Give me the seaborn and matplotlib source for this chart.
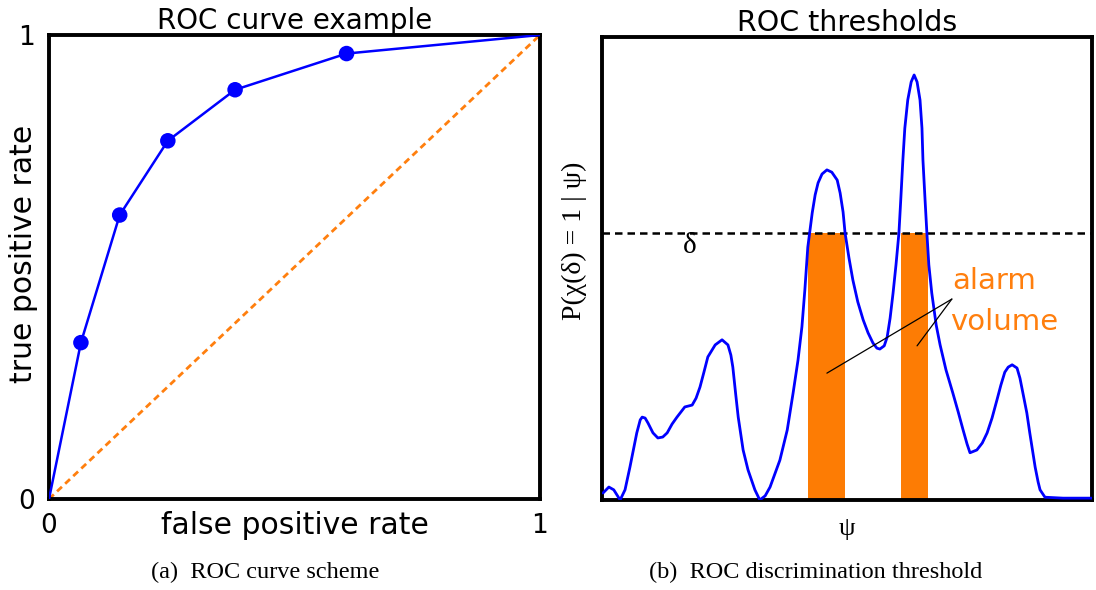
import matplotlib
matplotlib.use("Agg")
import matplotlib.pyplot as plt
import seaborn as sns
import pandas as pd

# ---------------- data ----------------
# (a) ROC curve
fpr = [0.0, 0.065, 0.144, 0.242, 0.379, 0.606, 1.0]
tpr = [0.0, 0.337, 0.612, 0.772, 0.882, 0.960, 1.0]
diag_x = [0.0, 1.0]
diag_y = [0.0, 1.0]
roc_ticks = [0, 1]
roc_ticklabels = ["0", "1"]

# (b) ROC thresholds: P(chi(delta)=1 | psi)
psi = [0.002, 0.014, 0.024, 0.037, 0.047, 0.057, 0.071, 0.078, 0.082, 0.088,
       0.094, 0.104, 0.114, 0.124, 0.133, 0.143, 0.153, 0.169, 0.184, 0.192,
       0.200, 0.208, 0.216, 0.231, 0.245, 0.257, 0.263, 0.267, 0.273, 0.278,
       0.288, 0.298, 0.312, 0.322, 0.333, 0.343, 0.363, 0.378, 0.390, 0.400,
       0.408, 0.414, 0.420, 0.429, 0.435, 0.441, 0.449, 0.459, 0.469, 0.480,
       0.486, 0.492, 0.496, 0.504, 0.512, 0.522, 0.533, 0.543, 0.553, 0.561,
       0.567, 0.576, 0.582, 0.588, 0.594, 0.600, 0.606, 0.610, 0.614, 0.618,
       0.624, 0.631, 0.637, 0.643, 0.649, 0.653, 0.655, 0.659, 0.663, 0.667,
       0.673, 0.682, 0.690, 0.702, 0.716, 0.727, 0.737, 0.745, 0.751, 0.765,
       0.776, 0.786, 0.796, 0.806, 0.814, 0.822, 0.829, 0.837, 0.847, 0.853,
       0.859, 0.867, 0.873, 0.884, 0.890, 0.894, 0.904, 0.941, 1.0]
prob = [0.015, 0.028, 0.022, 0.000, 0.022, 0.071, 0.145, 0.173, 0.179, 0.177,
        0.166, 0.145, 0.134, 0.136, 0.145, 0.164, 0.179, 0.201, 0.205, 0.220,
        0.244, 0.276, 0.309, 0.335, 0.346, 0.335, 0.313, 0.287, 0.227, 0.179,
        0.108, 0.065, 0.022, 0.000, 0.009, 0.028, 0.086, 0.151, 0.231, 0.302,
        0.374, 0.454, 0.546, 0.620, 0.659, 0.685, 0.704, 0.713, 0.708, 0.691,
        0.663, 0.622, 0.577, 0.523, 0.475, 0.428, 0.389, 0.361, 0.339, 0.328,
        0.326, 0.333, 0.352, 0.393, 0.447, 0.508, 0.577, 0.654, 0.734, 0.803,
        0.864, 0.903, 0.918, 0.903, 0.864, 0.803, 0.734, 0.654, 0.577, 0.508,
        0.447, 0.378, 0.335, 0.281, 0.231, 0.190, 0.151, 0.121, 0.102, 0.108,
        0.123, 0.145, 0.177, 0.216, 0.248, 0.276, 0.287, 0.292, 0.285, 0.263,
        0.231, 0.188, 0.145, 0.071, 0.039, 0.022, 0.006, 0.004, 0.004]
delta = 0.577
alarm_left = [0.420, 0.610]
alarm_width = [0.076, 0.055]

# ---------------- style ----------------
sns.set_style("white")
plt.rcParams["font.family"] = ["DejaVu Sans"]
plt.rcParams["text.color"] = "black"
plt.rcParams["axes.labelcolor"] = "black"
plt.rcParams["xtick.color"] = "black"
plt.rcParams["ytick.color"] = "black"
SERIF = ["Liberation Serif", "DejaVu Serif"]
BLUE = "#0000ff"
ORANGE = "#ff7f0e"
BAR_ORANGE = "#fd7c04"

fig = plt.figure(figsize=(10.96, 5.90), dpi=100)
ax1 = fig.add_axes([49 / 1096, 1 - 499 / 590, 491 / 1096, 464 / 590])
ax2 = fig.add_axes([602 / 1096, 1 - 500 / 590, 490 / 1096, 463 / 590])

for ax in (ax1, ax2):
    for sp in ax.spines.values():
        sp.set_visible(True)
        sp.set_color("black")
        sp.set_linewidth(2.8)
    ax.set_xlim(0, 1)
    ax.set_ylim(0, 1)

# ---------------- (a) ----------------
roc_df = pd.DataFrame({"fpr": fpr, "tpr": tpr})
sns.lineplot(data=pd.DataFrame({"x": diag_x, "y": diag_y}), x="x", y="y",
             ax=ax1, color=ORANGE, lw=2.0, linestyle=(0, (2.4, 1.6)),
             estimator=None, sort=False, zorder=2)
sns.lineplot(data=roc_df, x="fpr", y="tpr", ax=ax1, color=BLUE, lw=1.8,
             estimator=None, sort=False, zorder=3)
sns.scatterplot(data=roc_df.iloc[1:-1], x="fpr", y="tpr", ax=ax1, color=BLUE,
                s=125, edgecolor="none", zorder=4, clip_on=False)

ax1.set_xticks(roc_ticks)
ax1.set_xticklabels(roc_ticklabels)
ax1.set_yticks(roc_ticks)
ax1.set_yticklabels(roc_ticklabels)
ax1.tick_params(axis="both", length=0, labelsize=19)
ax1.tick_params(axis="x", pad=10)
ax1.tick_params(axis="y", pad=10)
ax1.set_title("ROC curve example", fontsize=20, pad=4)
ax1.set_xlabel("false positive rate", fontsize=21.5)
ax1.set_ylabel("true positive rate", fontsize=21.5)
ax1.xaxis.label.set_va("center")
ax1.xaxis.set_label_coords(0.5, -0.058)
ax1.yaxis.label.set_va("center")
ax1.yaxis.set_label_coords(-0.052, 0.528)

# ---------------- (b) ----------------
ax2.bar(alarm_left, [delta] * len(alarm_left), width=alarm_width, align="edge",
        color=BAR_ORANGE, edgecolor="none", zorder=1)
ax2.axhline(delta, color="black", lw=1.8, linestyle=(0, (3.0, 2.0)), zorder=2)
sns.lineplot(data=pd.DataFrame({"psi": psi, "p": prob}), x="psi", y="p",
             ax=ax2, color=BLUE, lw=2.0, estimator=None, sort=False, zorder=3)

ax2.set_xticks([])
ax2.set_yticks([])
ax2.set_title("ROC thresholds", fontsize=20.5, pad=4)
ax2.set_xlabel("ψ", fontsize=19, family=SERIF)
ax2.set_ylabel("P(χ(δ) = 1 | ψ)", fontsize=20, family=SERIF)
ax2.xaxis.label.set_va("center")
ax2.xaxis.set_label_coords(0.5, -0.062)
ax2.yaxis.label.set_va("center")
ax2.yaxis.set_label_coords(-0.056, 0.56)

ax2.text(0.18, 0.548, "δ", fontsize=21, family=SERIF, ha="center",
         va="center", transform=ax2.transData)

apex = (0.714, 0.434)
for tgt in [(0.459, 0.274), (0.643, 0.333)]:
    ax2.annotate("", xy=tgt, xytext=apex,
                 arrowprops=dict(arrowstyle="-", color="black", lw=0.9,
                                 shrinkA=0, shrinkB=0), zorder=4)
ax2.text(0.714, 0.456, "alarm", color=ORANGE, fontsize=21, ha="left",
         va="baseline")
ax2.text(0.710, 0.367, "volume", color=ORANGE, fontsize=21, ha="left",
         va="baseline")

# captions
fig.text(265 / 1096, 1 - 572 / 590, "(a)  ROC curve scheme", fontsize=17.5,
         family=SERIF, ha="center", va="center")
fig.text(816 / 1096, 1 - 572 / 590, "(b)  ROC discrimination threshold",
         fontsize=17.5, family=SERIF, ha="center", va="center")

fig.savefig("out.png", dpi=100)
